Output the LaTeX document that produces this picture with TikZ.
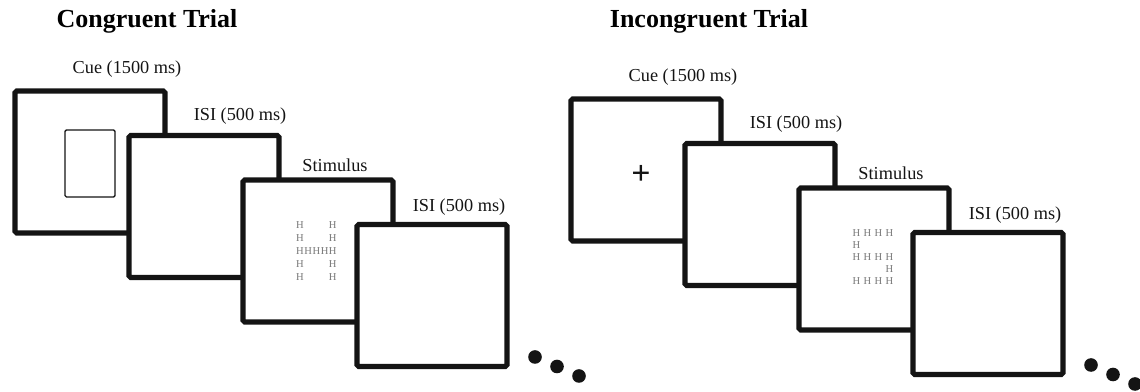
\documentclass[tikz,border=0pt]{standalone}
\usepackage{fontspec}
\setmainfont{Liberation Serif}
\usepackage{tikz}
\usetikzlibrary{calc}
\definecolor{myblack}{RGB}{20, 20, 20}
\definecolor{mygray1}{RGB}{120, 120, 120}
\tikzset{
  screen/.style = {draw = myblack, fill = white, line width = 3.6pt,
    rounded corners = 1.2pt, minimum width = 3.75cm, minimum height = 3.55cm,
    inner sep = 0pt},
  steplabel/.style = {font = \fontsize{13}{15}\selectfont, text = myblack, inner sep = 0pt},
  trialtitle/.style = {font = \fontsize{18.5}{21}\selectfont\bfseries, inner sep = 0pt},
  hletter/.style = {font = \fontsize{7.5}{8}\selectfont, text = mygray1, inner sep = 0pt}
}

\begin{document}
\begin{tikzpicture}[x = 0.025cm, y = -0.025cm]
\useasboundingbox (0, 0) rectangle (1140, 392);

\node[trialtitle] (tCon) at (147, 21) {Congruent Trial};
\node[trialtitle] (tInc) at (709, 21) {Incongruent Trial};




% Congruent trial
\node[steplabel] (lcCue) at (127, 69) {Cue (1500 ms)};
\node[steplabel] (lcIsiA) at (240, 116) {ISI (500 ms)};
\node[steplabel] (lcStim) at (335, 165) {Stimulus};
\node[steplabel] (lcIsiB) at (459, 207) {ISI (500 ms)};

\node[screen] (cCue) at (90, 162) {};
\node[draw = myblack, line width = 0.9pt, rounded corners = 1pt,
  minimum width = 1.25cm, minimum height = 1.675cm] (cFrame) at (90, 163.5) {};
\node[screen] (cIsiA) at (204, 206.5) {};
\node[screen] (cStim) at (318, 251) {};
% big H made of small H
\foreach \c/\r in {0/0,4/0,0/1,4/1,0/2,1/2,2/2,3/2,4/2,0/3,4/3,0/4,4/4} {
  \node[hletter] (cH\c\r) at ($(cStim) + (8.2*\c - 18, 13*\r - 26)$) {H};
}
\node[screen] (cIsiB) at (432, 295.5) {};

\foreach \i in {0,1,2} {
  \fill[myblack] ($(cIsiB) + (103 + 22*\i, 61.5 + 9.5*\i)$) circle (0.17cm);
}




% Incongruent trial (same layout, shifted)
\begin{scope}[shift = {(556, 8)}]
\node[steplabel] (liCue) at (127, 69) {Cue (1500 ms)};
\node[steplabel] (liIsiA) at (240, 116) {ISI (500 ms)};
\node[steplabel] (liStim) at (335, 165) {Stimulus};
\node[steplabel] (liIsiB) at (459, 207) {ISI (500 ms)};

\node[screen] (iCue) at (90, 162) {};
\node[text = myblack, font = \fontsize{24}{24}\selectfont\bfseries, inner sep = 0pt] (iFix) at (85, 167) {+};
\node[screen] (iIsiA) at (204, 206.5) {};
\node[screen] (iStim) at (318, 251) {};
% big S made of small H
\foreach \c/\r in {0/0,1/0,2/0,3/0,0/1,0/2,1/2,2/2,3/2,3/3,0/4,1/4,2/4,3/4} {
  \node[hletter] (iH\c\r) at ($(iStim) + (11*\c - 17.5, 12*\r - 26)$) {H};
}
\node[screen] (iIsiB) at (432, 295.5) {};

\foreach \i in {0,1,2} {
  \fill[myblack] ($(iIsiB) + (103 + 22*\i, 61.5 + 9.5*\i)$) circle (0.17cm);
}
\end{scope}
\end{tikzpicture}
\end{document}
